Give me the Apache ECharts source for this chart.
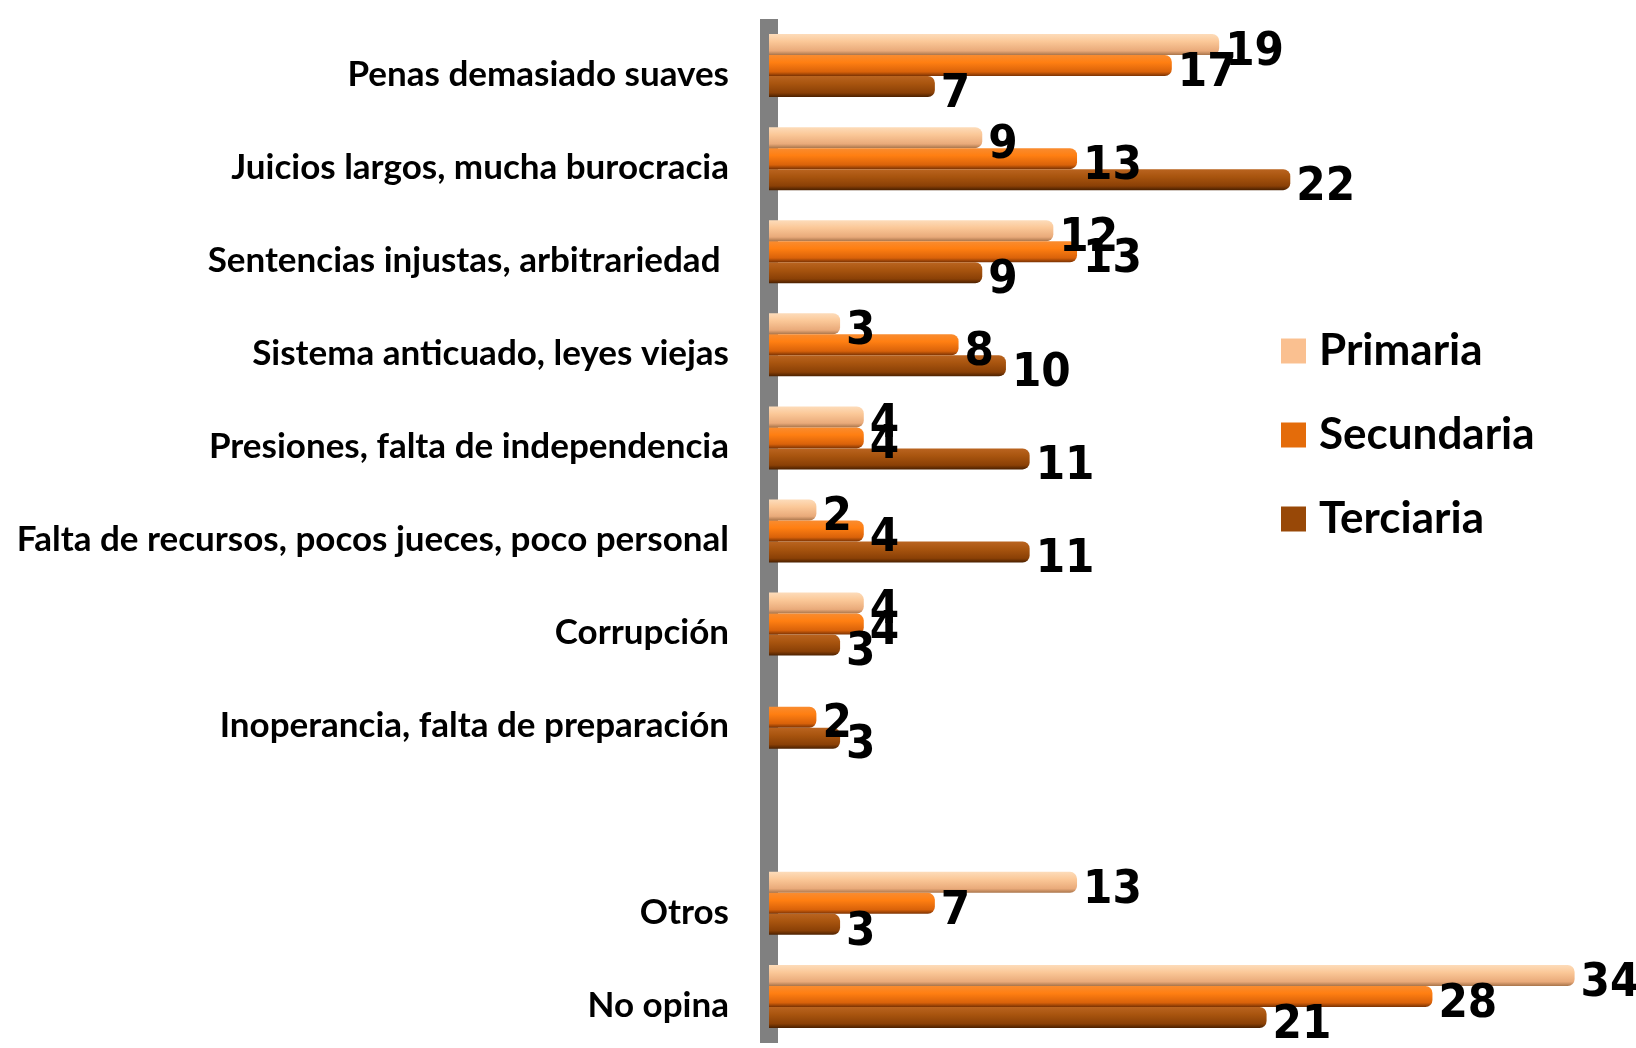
<!DOCTYPE html>
<html>
<head>
<meta charset="utf-8">
<script src="https://cdn.jsdelivr.net/npm/echarts@6/dist/echarts.min.js"></script>
<style>
  html, body { margin: 0; padding: 0; background: #fff; }
  #chart { width: 1636px; height: 1048px; }
</style>
</head>
<body>
<div id="chart"></div>
<script>
// categorias (de arriba a abajo), la vacia es el hueco antes de "Otros"
var categorias = [
  'Penas demasiado suaves',
  'Juicios largos, mucha burocracia',
  'Sentencias injustas, arbitrariedad ',
  'Sistema anticuado, leyes viejas',
  'Presiones, falta de independencia',
  'Falta de recursos, pocos jueces, poco personal',
  'Corrupción',
  'Inoperancia, falta de preparación',
  '',
  'Otros',
  'No opina'
]
var primaria   = [19, 9, 12, 3, 4, 2, 4, null, null, 13, 34]
var secundaria = [17, 13, 13, 8, 4, 4, 4, 2, null, 7, 28]
var terciaria  = [7, 22, 9, 10, 11, 11, 3, 3, null, 3, 21]
var nombres = ['Primaria', 'Secundaria', 'Terciaria']

var chart = echarts.init(document.getElementById('chart'))

// degradado vertical para el efecto de cilindro
function cilindro(c0, c1, c2, c3) {
  return new echarts.graphic.LinearGradient(0, 0, 0, 1, [
    { offset: 0, color: c0 },
    { offset: 0.35, color: c1 },
    { offset: 0.8, color: c2 },
    { offset: 1, color: c3 }
  ])
}

var etiqueta = {
  show: true,
  position: 'right',
  distance: 6,
  offset: [0, 8],
  color: '#000',
  fontSize: 47,
  fontWeight: 'bold',
  fontFamily: '"Liberation Sans Narrow", "DejaVu Sans Condensed", Lato, sans-serif'
}

function serie(nombre, datos, color) {
  return {
    name: nombre,
    type: 'bar',
    data: datos,
    barWidth: 21,
    barGap: '0%',
    z: 3,
    itemStyle: { color: color, borderRadius: [0, 7, 7, 0] },
    label: etiqueta
  }
}

chart.setOption({
  animation: false,
  backgroundColor: '#fff',
  grid: { left: 769, right: 14, top: 19, height: 1024 },
  legend: {
    orient: 'vertical',
    left: 1276,
    top: 324,
    itemWidth: 25,
    itemHeight: 25,
    itemGap: 40,
    icon: 'rect',
    textStyle: {
      fontSize: 44,
      fontWeight: 'bold',
      color: '#000',
      fontFamily: 'Lato, sans-serif',
      padding: [0, 0, 0, 8]
    },
    data: [
      { name: nombres[0], itemStyle: { color: '#FAC090' } },
      { name: nombres[1], itemStyle: { color: '#E46C0A' } },
      { name: nombres[2], itemStyle: { color: '#984807' } }
    ]
  },
  xAxis: {
    type: 'value',
    min: 0,
    max: 36,
    show: false
  },
  yAxis: {
    type: 'category',
    inverse: true,
    data: categorias,
    axisTick: { show: false },
    axisLine: { show: true, lineStyle: { color: '#808080', width: 18, cap: 'butt' } },
    axisLabel: {
      margin: 40,
      formatter: function (v) { return '{t|' + v + '}' },
      rich: {
        t: {
          color: '#000',
          fontSize: 35,
          fontWeight: 'bold',
          fontFamily: 'Lato, sans-serif',
          padding: [18, 0, 0, 0]
        }
      }
    }
  },
  series: [
    serie(nombres[0], primaria, cilindro('#FDDCBA', '#FBC898', '#E9AA7A', '#A8744A')),
    serie(nombres[1], secundaria, cilindro('#F98C30', '#FF7F12', '#D9620A', '#7A3203')),
    serie(nombres[2], terciaria, cilindro('#BA6420', '#A9550F', '#8A4006', '#4A2000'))
  ]
})
</script>
</body>
</html>
